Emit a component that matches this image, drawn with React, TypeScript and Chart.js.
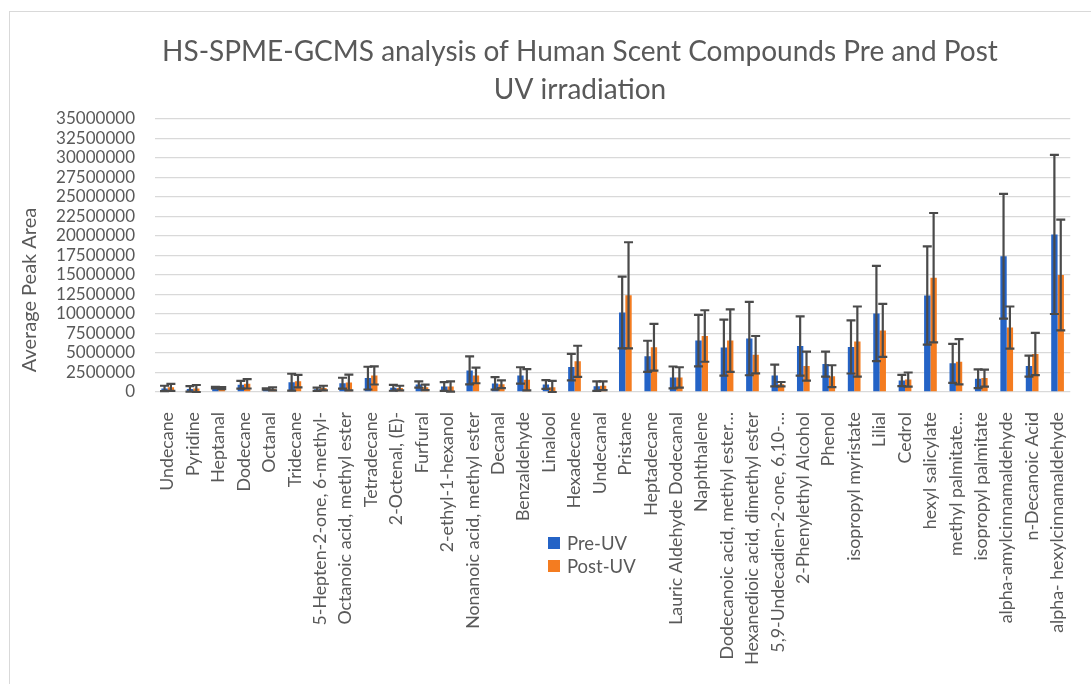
import React, { useEffect, useRef } from 'react';
import { Chart, registerables } from 'chart.js';

Chart.register(...registerables);

const FONT = 'Lato, "Open Sans", sans-serif';
const TEXT = '#595959';
const BLUE = '#2463C6';
const ORANGE = '#F47C20';

const categories = [
  'Undecane', 'Pyridine', 'Heptanal', 'Dodecane', 'Octanal', 'Tridecane',
  '5-Hepten-2-one, 6-methyl-', 'Octanoic acid, methyl ester', 'Tetradecane',
  '2-Octenal, (E)-', 'Furfural', '2-ethyl-1-hexanol', 'Nonanoic acid, methyl ester',
  'Decanal', 'Benzaldehyde', 'Linalool', 'Hexadecane', 'Undecanal', 'Pristane',
  'Heptadecane', 'Lauric Aldehyde Dodecanal', 'Naphthalene',
  'Dodecanoic acid, methyl ester…', 'Hexanedioic acid, dimethyl ester',
  '5,9-Undecadien-2-one, 6,10-…', '2-Phenylethyl Alcohol', 'Phenol',
  'isopropyl myristate', 'Lilial', 'Cedrol', 'hexyl salicylate', 'methyl palmitate…',
  'isopropyl palmitate', 'alpha-amylcinnamaldehyde', 'n-Decanoic Acid',
  'alpha- hexylcinnamaldehyde',
];

const preUV = [
  450000, 400000, 550000, 920000, 380000, 1260000, 350000, 1130000, 1780000,
  540000, 960000, 700000, 2770000, 1100000, 2120000, 960000, 3200000, 750000,
  10200000, 4570000, 1870000, 6590000, 5690000, 6850000, 2120000, 5900000,
  3580000, 5770000, 10060000, 1480000, 12380000, 3670000, 1690000, 17400000,
  3320000, 20200000,
];
const preErr = [
  350000, 350000, 100000, 500000, 80000, 1080000, 200000, 700000, 1460000,
  380000, 400000, 560000, 1800000, 800000, 1050000, 560000, 1700000, 600000,
  4600000, 2000000, 1400000, 3300000, 3600000, 4700000, 1400000, 3800000,
  1600000, 3400000, 6100000, 720000, 6300000, 2500000, 1200000, 8000000,
  1350000, 10200000,
];
const postUV = [
  600000, 450000, 500000, 1050000, 400000, 1390000, 500000, 1220000, 2120000,
  500000, 600000, 700000, 2120000, 1000000, 1570000, 620000, 3930000, 800000,
  12400000, 5730000, 1870000, 7180000, 6590000, 4780000, 1000000, 3320000,
  2030000, 6460000, 7900000, 1600000, 14650000, 3880000, 1780000, 8260000,
  4870000, 15000000,
];
const postErr = [
  450000, 450000, 120000, 600000, 200000, 800000, 300000, 1000000, 1160000,
  300000, 350000, 650000, 1000000, 500000, 1350000, 800000, 2000000, 550000,
  6800000, 3000000, 1300000, 3300000, 4000000, 2400000, 280000, 1850000,
  1400000, 4500000, 3400000, 900000, 8300000, 2900000, 1100000, 2700000,
  2700000, 7100000,
];

const titleLines = ['HS-SPME-GCMS analysis of Human Scent Compounds Pre and Post', 'UV irradiation'];
const yTitle = 'Average Peak Area';

const errorBars = {
  id: 'errorBars',
  afterDatasetsDraw(chart: any) {
    const ctx = chart.ctx;
    const ys = chart.scales.y;
    ctx.save();
    ctx.strokeStyle = '#4A4A4A';
    ctx.lineWidth = 2.2;
    chart.data.datasets.forEach((ds: any, di: number) => {
      const meta = chart.getDatasetMeta(di);
      meta.data.forEach((bar: any, i: number) => {
        const v = ds.data[i];
        const e = ds.errors[i];
        const x = bar.x;
        const yt = ys.getPixelForValue(v + e);
        const yb = ys.getPixelForValue(Math.max(0, v - e));
        ctx.beginPath();
        ctx.moveTo(x, yt);
        ctx.lineTo(x, yb);
        ctx.moveTo(x - 4.5, yt);
        ctx.lineTo(x + 4.5, yt);
        ctx.moveTo(x - 4.5, yb);
        ctx.lineTo(x + 4.5, yb);
        ctx.stroke();
      });
    });
    ctx.restore();
  },
};

const decorations = {
  id: 'decorations',
  afterDraw(chart: any) {
    const ctx = chart.ctx;
    ctx.save();
    ctx.fillStyle = TEXT;
    ctx.textAlign = 'center';
    ctx.textBaseline = 'middle';
    ctx.font = `28px ${FONT}`;
    ctx.fillText(titleLines[0], 580, 52);
    ctx.fillText(titleLines[1], 580, 90);

    ctx.save();
    ctx.translate(30, 290);
    ctx.rotate(-Math.PI / 2);
    ctx.font = `20px ${FONT}`;
    ctx.fillText(yTitle, 0, 0);
    ctx.restore();

    ctx.textAlign = 'left';
    ctx.font = `18.5px ${FONT}`;
    chart.data.datasets.forEach((ds: any, i: number) => {
      const y = 543 + i * 23;
      ctx.fillStyle = ds.backgroundColor;
      ctx.fillRect(548, y - 6, 12, 12);
      ctx.fillStyle = TEXT;
      ctx.fillText(ds.label, 567, y + 1);
    });
    ctx.restore();
  },
};

export default function App() {
  const ref = useRef<HTMLCanvasElement>(null);
  useEffect(() => {
    const chart = new Chart(ref.current as HTMLCanvasElement, {
      type: 'bar',
      data: {
        labels: categories,
        datasets: [
          { label: 'Pre-UV', data: preUV, backgroundColor: BLUE, errors: preErr } as any,
          { label: 'Post-UV', data: postUV, backgroundColor: ORANGE, errors: postErr } as any,
        ],
      },
      options: {
        animation: false,
        responsive: false,
        maintainAspectRatio: false,
        layout: { padding: { top: 119, left: 0, right: 5, bottom: 0 } },
        datasets: { bar: { categoryPercentage: 0.5, barPercentage: 1.0 } },
        plugins: {
          legend: { display: false },
          title: { display: false },
          tooltip: { enabled: false },
        },
        scales: {
          x: {
            grid: { display: false },
            border: { display: false },
            ticks: {
              autoSkip: false,
              minRotation: 90,
              maxRotation: 90,
              padding: 12,
              color: TEXT,
              font: { family: FONT, size: 17.8 },
            },
            afterFit: (s: any) => { s.height = 292; },
          },
          y: {
            min: 0,
            max: 35000000,
            ticks: {
              stepSize: 2500000,
              autoSkip: false,
              callback: (v: any) => String(v),
              padding: 20,
              color: TEXT,
              font: { family: FONT, size: 17 },
            },
            grid: { color: '#D9D9D9', lineWidth: 1.3, drawTicks: false },
            border: { display: false },
            afterFit: (s: any) => { s.width = 155; },
          },
        },
      } as any,
      plugins: [errorBars, decorations],
    });
    return () => chart.destroy();
  }, []);
  return (
    <div style={{ position: 'fixed', left: 0, top: 0, width: 1091, height: 684, background: '#fff', overflow: 'hidden' }}>
      <div style={{ position: 'absolute', left: 9, top: 11, width: 1200, height: 800, border: '1px solid #D9D9D9' }} />
      <canvas ref={ref} width={1091} height={684} style={{ position: 'absolute', left: 0, top: 0, width: 1091, height: 684 }} />
    </div>
  );
}
